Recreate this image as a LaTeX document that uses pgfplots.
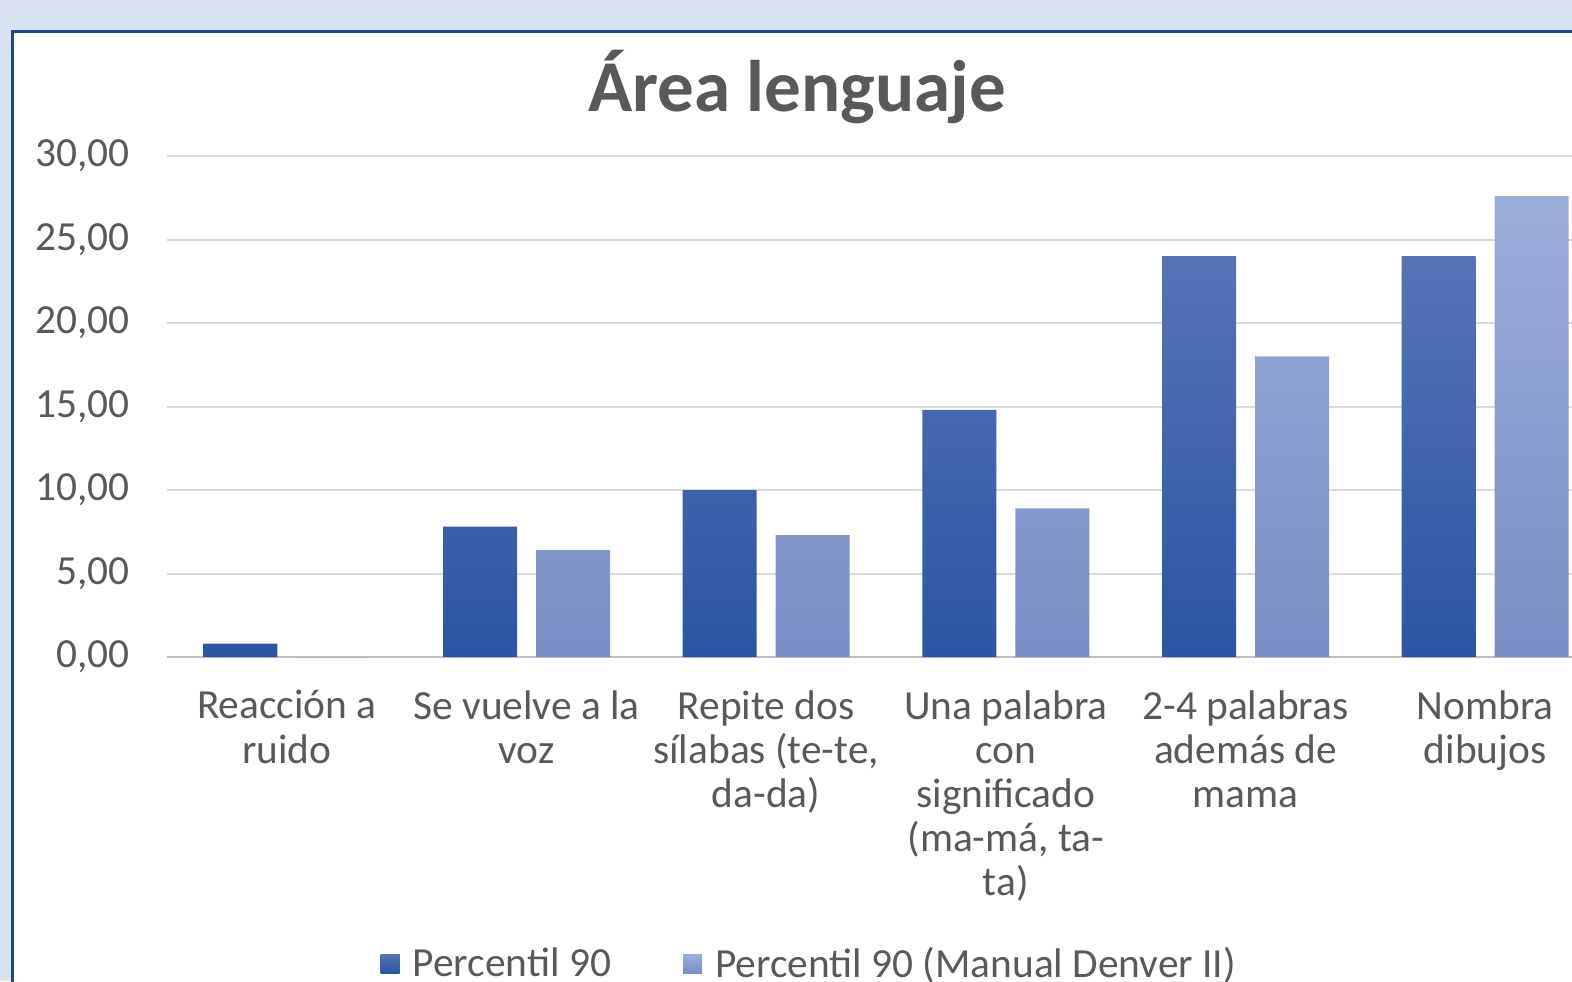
\documentclass[border=0pt]{standalone}
\usepackage{fontspec}
\setmainfont{Carlito}
\usepackage{pgfplots}
\pgfplotsset{compat=1.18}
\definecolor{bgband}{HTML}{DAE3F3}
\definecolor{frame}{HTML}{1B4A80}
\definecolor{txt}{HTML}{595959}
\definecolor{gridc}{HTML}{D9D9D9}
\definecolor{zeroc}{HTML}{BFBFBF}
\definecolor{dtop}{HTML}{5673B6}
\definecolor{dmid}{HTML}{3666B5}
\definecolor{dbot}{HTML}{2B55A4}
\definecolor{ltop}{HTML}{9BAEDB}
\definecolor{lmid}{HTML}{8C9FD7}
\definecolor{lbot}{HTML}{7A8DC6}
\begin{document}
\begin{tikzpicture}[x=0.5pt,y=0.5pt]
\useasboundingbox (0,0) rectangle (1572,981);
\clip (0,0) rectangle (1572,981);
\fill[bgband] (0,0) rectangle (1572,981);
\fill[white] (12.5,0) rectangle (1600,949.5);
\draw[frame, line width=1.5pt] (12.5,-10) -- (12.5,949.5) -- (1600,949.5);
\node[font=\fontsize{36.5}{40}\selectfont\bfseries, text=txt, anchor=base] at (797,869) {Área lenguaje};
\begin{axis}[
  at={(83.5pt,162pt)}, anchor=south west,
  scale only axis, width=719pt, height=250.5pt,
  xmin=-0.5, xmax=5.5, ymin=0, ymax=30,
  ytick={0,5,10,15,20,25,30},
  xtick={0,1,2,3,4,5},
  xticklabels={{Reacción a\\ruido},{Se vuelve a la\\voz},{Repite dos\\sílabas (te-te,\\da-da)},{Una palabra\\con\\significado\\(ma-má, ta-\\ta)},{2-4 palabras\\además de\\mama},{Nombra\\dibujos}},
  ybar=9.5pt, bar width=37pt,
  axis line style={draw=none},
  major tick length=0pt,
  ymajorgrids, grid style={gridc, line width=1pt},
  extra y ticks={0}, extra y tick labels={},
  extra y tick style={grid style={zeroc, line width=1pt}},
  yticklabel={\pgfmathprintnumber[fixed,fixed zerofill,precision=2,use comma,assume math mode=true]{\tick}},
  yticklabel style={font=\fontsize{20.7}{22}\selectfont, text=txt, inner sep=0pt, anchor=east, xshift=-18.5pt},
  xticklabel style={font=\fontsize{20.7}{22.1}\selectfont, text=txt, align=center, anchor=north, inner sep=0pt, yshift=-16.5pt},
  legend style={at={(0.4474,-0.612)}, anchor=center, draw=none, fill=none,
    font=\fontsize{20.7}{22}\selectfont, text=txt, legend columns=2,
    /tikz/every even column/.append style={column sep=34pt}},
]
\addplot[draw=none, top color=dtop, middle color=dmid, bottom color=dbot,
  legend image code/.code={\fill[dmid] (0pt,-4.75pt) rectangle (9.5pt,4.75pt); \path (14pt,0pt);}]
  coordinates {(0,0.8) (1,7.8) (2,10) (3,14.8) (4,24) (5,24)};
\addlegendentry{Percentil 90}
\addplot[draw=none, top color=ltop, middle color=lmid, bottom color=lbot,
  legend image code/.code={\fill[lmid] (0pt,-4.75pt) rectangle (9.5pt,4.75pt); \path (14pt,0pt);}]
  coordinates {(0,0) (1,6.4) (2,7.3) (3,8.9) (4,18) (5,27.6)};
\addlegendentry{Percentil 90 (Manual Denver II)}
\end{axis}
\end{tikzpicture}
\end{document}
